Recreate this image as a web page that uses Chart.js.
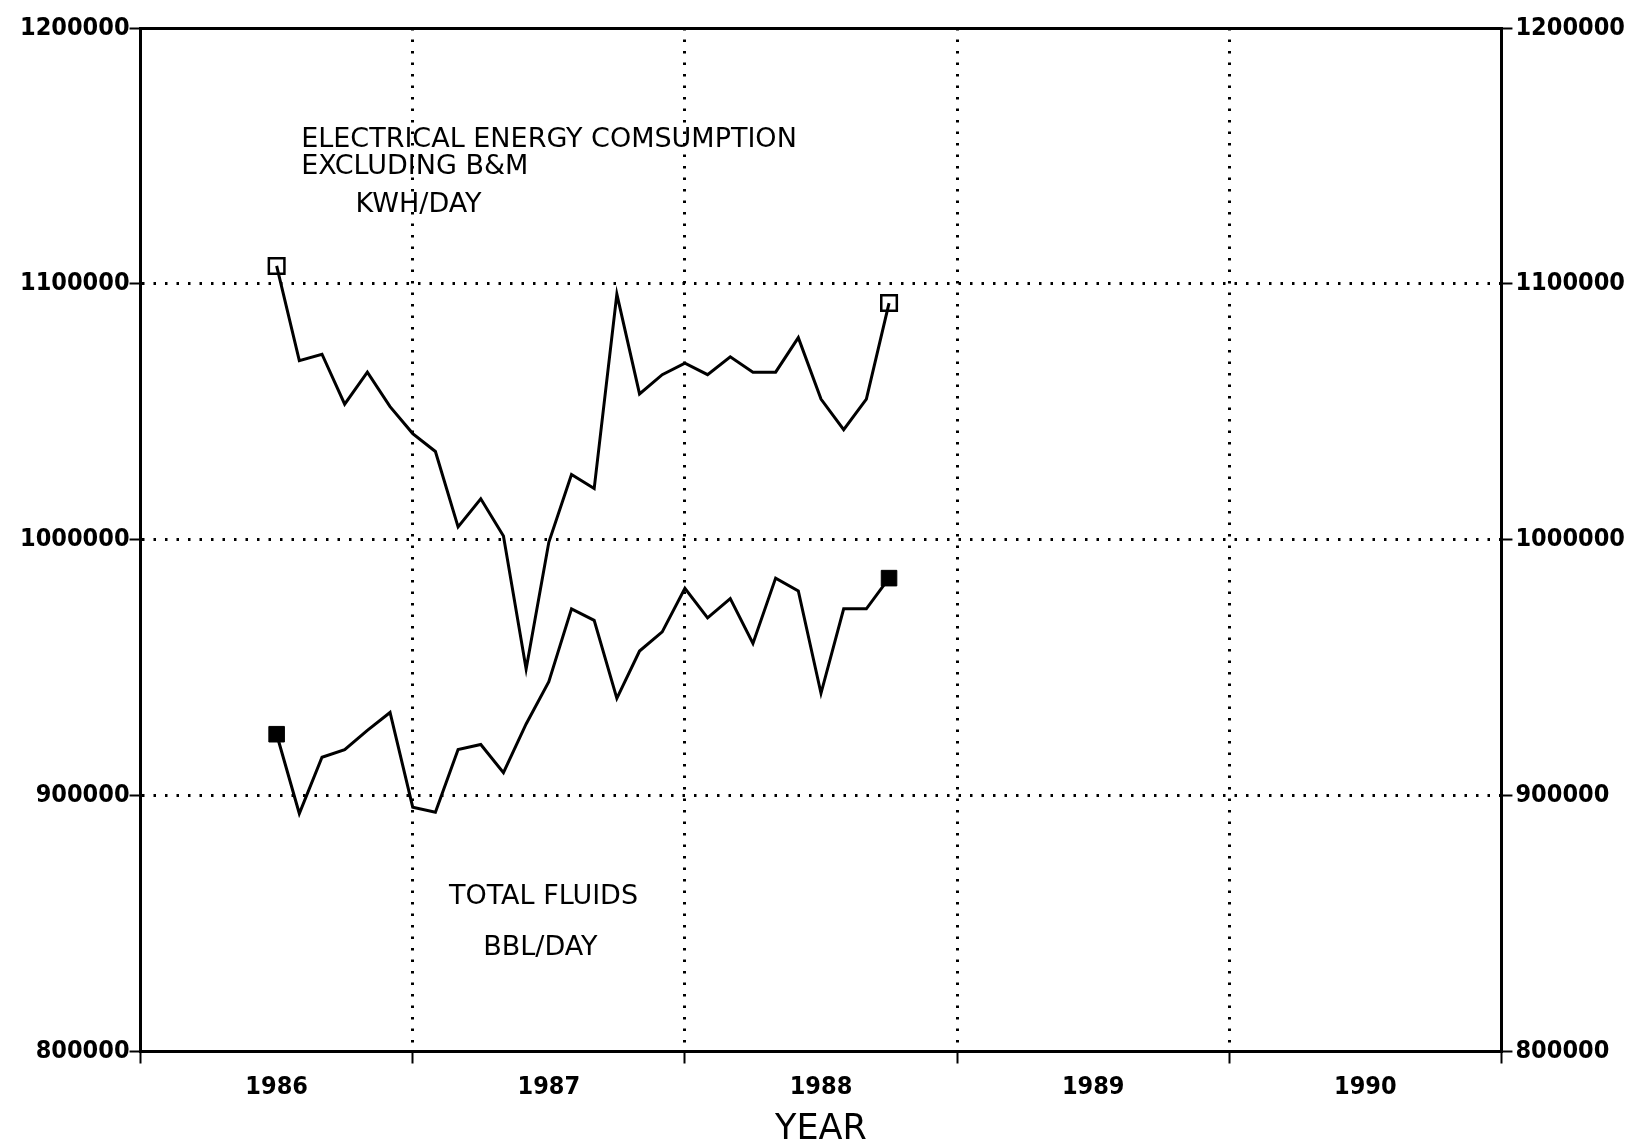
<!DOCTYPE html>
<html>
<head>
<meta charset="utf-8">
<style>
  html, body { margin: 0; padding: 0; background: #fff; }
  #wrap { width: 1628px; height: 1146px; }
</style>
<script src="https://cdn.jsdelivr.net/npm/chart.js@4.4.1/dist/chart.umd.min.js"></script>
</head>
<body>
<div id="wrap"><canvas id="energyChart"></canvas></div>
<script>
// monthly readings, July 1986 .. October 1988
const firstMonth = 1986.5;
const electricKwh = [1107000, 1070000, 1072500, 1053000, 1065500, 1052000, 1041500,
  1034500, 1005000, 1016000, 1001500, 949500, 999000, 1025500, 1020000, 1096000,
  1057000, 1064500, 1069000, 1064500, 1071500, 1065500, 1065500, 1079000, 1055000,
  1043000, 1055000, 1092500];
const fluidsBbl = [924000, 893000, 915000, 918000, 925500, 932500, 895500,
  893500, 918000, 920000, 909000, 928000, 944500, 973000, 968500, 938000,
  956500, 964000, 981000, 969500, 977000, 959500, 985000, 980000, 940000,
  973000, 973000, 985000];
const yearLabels = ['1986', '1987', '1988', '1989', '1990'];
const valueTicks = [800000, 900000, 1000000, 1100000, 1200000];

const clear = 'rgba(0,0,0,0)';
const tickFont = { family: '"DejaVu Sans Condensed", "DejaVu Sans", sans-serif', size: 25, weight: 'bold' };
const noteFont = '27px "DejaVu Sans", sans-serif';

const toPoints = arr => arr.map((v, i) => ({ x: firstMonth + i / 12, y: v }));
const endsOnly = r => ctx => (ctx.dataIndex === 0 || ctx.dataIndex === ctx.dataset.data.length - 1) ? r : 0;

// text written inside the plot, placed in data units
const notes = [
  { text: 'ELECTRICAL ENERGY COMSUMPTION', x: 1986.59, y: 1156400 },
  { text: 'EXCLUDING B&M', x: 1986.59, y: 1145500 },
  { text: 'KWH/DAY', x: 1986.79, y: 1130800 },
  { text: 'TOTAL FLUIDS', x: 1987.133, y: 860500 },
  { text: 'BBL/DAY', x: 1987.259, y: 840600 }
];

const notesPlugin = {
  id: 'notes',
  afterDatasetsDraw(chart) {
    const { ctx, scales: { x, y } } = chart;
    ctx.save();
    ctx.font = noteFont;
    ctx.fillStyle = '#000';
    ctx.textAlign = 'left';
    ctx.textBaseline = 'middle';
    notes.forEach(n => ctx.fillText(n.text, x.getPixelForValue(n.x), y.getPixelForValue(n.y)));
    ctx.restore();
  }
};

const yAxis = (side, pad) => ({
  position: side,
  min: 800000,
  max: 1200000,
  afterBuildTicks: axis => { axis.ticks = valueTicks.map(v => ({ value: v })); },
  ticks: { color: '#000', font: tickFont, padding: pad, callback: v => String(v) },
  grid: {
    drawOnChartArea: side === 'left',
    color: ctx => (ctx.tick && ctx.tick.value > 800000 && ctx.tick.value < 1200000) ? '#000' : clear,
    lineWidth: 3,
    tickColor: '#000',
    tickWidth: 2,
    tickLength: 11
  },
  border: { display: true, color: '#000', width: 3, dash: [2.5, 9] }
});

new Chart(document.getElementById('energyChart'), {
  type: 'line',
  data: {
    datasets: [{
      label: 'Electrical energy consumption excluding B&M (KWH/DAY)',
      data: toPoints(electricKwh),
      borderColor: '#000',
      borderWidth: 3,
      tension: 0,
      pointStyle: 'rect',
      pointRadius: endsOnly(11),
      pointBackgroundColor: clear,
      pointBorderColor: '#000',
      pointBorderWidth: 2.5
    }, {
      label: 'Total fluids (BBL/DAY)',
      data: toPoints(fluidsBbl),
      borderColor: '#000',
      borderWidth: 3,
      tension: 0,
      pointStyle: 'rect',
      pointRadius: endsOnly(11),
      pointBackgroundColor: '#000',
      pointBorderColor: '#000',
      pointBorderWidth: 1
    }]
  },
  options: {
    responsive: true,
    maintainAspectRatio: false,
    animation: false,
    layout: { padding: { left: 20, right: 0, top: 28, bottom: 0.5 } },
    plugins: {
      legend: { display: false },
      tooltip: { enabled: false }
    },
    scales: {
      x: {
        type: 'linear',
        min: 1986,
        max: 1991,
        ticks: {
          stepSize: 0.5,
          autoSkip: false,
          maxRotation: 0,
          color: '#000',
          font: tickFont,
          padding: 9,
          callback: v => Number.isInteger(v) ? '' : yearLabels[Math.floor(v) - 1986]
        },
        grid: {
          color: ctx => (ctx.tick && Number.isInteger(ctx.tick.value) && ctx.tick.value > 1986 && ctx.tick.value < 1991) ? '#000' : clear,
          lineWidth: 3,
          tickColor: ctx => (ctx.tick && Number.isInteger(ctx.tick.value)) ? '#000' : clear,
          tickWidth: 2,
          tickLength: 12
        },
        border: { display: true, color: '#000', width: 3, dash: [2.5, 9] },
        title: {
          display: true,
          text: 'YEAR',
          color: '#000',
          font: { family: '"DejaVu Sans", sans-serif', size: 35, lineHeight: 0.9 },
          padding: { top: 2.5, bottom: 0 }
        }
      },
      xTop: {
        type: 'linear',
        position: 'top',
        min: 1986,
        max: 1991,
        ticks: { display: false },
        grid: { display: false, drawTicks: false },
        border: { display: true, color: '#000', width: 3 }
      },
      y: yAxis('left', 0),
      y2: yAxis('right', 3)
    }
  },
  plugins: [notesPlugin]
});
</script>
</body>
</html>
